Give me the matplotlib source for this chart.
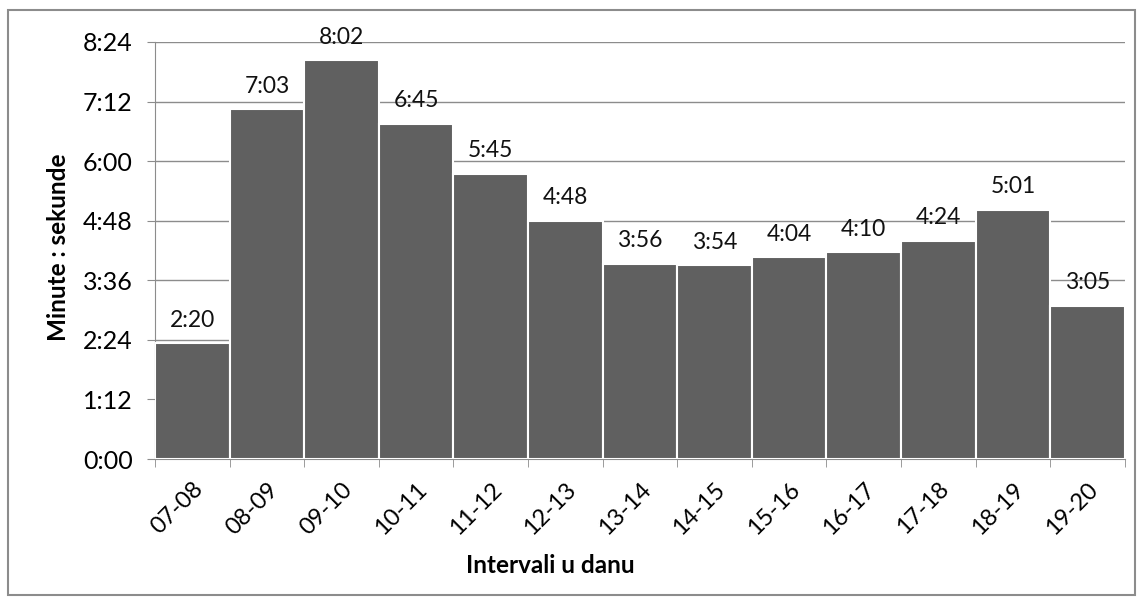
import matplotlib.pyplot as plt
from matplotlib.patches import Rectangle

# Data: average duration per hour interval (seconds)
intervals = ['07-08', '08-09', '09-10', '10-11', '11-12', '12-13', '13-14',
             '14-15', '15-16', '16-17', '17-18', '18-19', '19-20']
durations = [140, 423, 482, 405, 345, 288, 236, 234, 244, 250, 264, 301, 185]
yticks_sec = [0, 72, 144, 216, 288, 360, 432, 504]


def mmss(s):
    return f"{int(s) // 60}:{int(s) % 60:02d}"


plt.rcParams['font.family'] = ['Lato', 'DejaVu Sans']

fig = plt.figure(figsize=(11.42, 6.05), dpi=100)
ax = fig.add_axes([0.1357, 0.2413, 0.8493, 0.6893])

x = list(range(len(intervals)))
ax.bar(x, durations, width=1.0, color='#606060', edgecolor='white', linewidth=1.5, zorder=3)

# value labels above each bar
for xi, d in zip(x, durations):
    ax.annotate(mmss(d), (xi, d), xytext=(0, 9), textcoords='offset points',
                ha='center', va='bottom', fontsize=16.5, color='#111111', zorder=4)

ax.set_xlim(-0.5, len(intervals) - 0.5)
ax.set_ylim(0, 504)
ax.set_yticks(yticks_sec)
ax.set_yticklabels([mmss(s) for s in yticks_sec], fontsize=18)
ax.yaxis.grid(True, color='#8c8c8c', linewidth=1, zorder=0)

ax.set_xticks(x)
ax.set_xticklabels(intervals, rotation=45, ha='right', rotation_mode='anchor', fontsize=17)
ax.set_xticks([i - 0.5 for i in range(len(intervals) + 1)], minor=True)
ax.tick_params(axis='x', which='major', length=0, pad=14)
ax.tick_params(axis='x', which='minor', length=6, color='#8c8c8c')
ax.tick_params(axis='y', length=6, color='#8c8c8c', pad=10)

for side in ['top', 'right']:
    ax.spines[side].set_visible(False)
for side in ['left', 'bottom']:
    ax.spines[side].set_color('#8c8c8c')

ax.set_ylabel('Minute : sekunde', fontsize=17.5, fontweight='bold')
ax.yaxis.set_label_coords(-0.088, 0.507)
ax.set_xlabel('Intervali u danu', fontsize=17.5, fontweight='bold')
ax.xaxis.set_label_coords(0.408, -0.228)

# gray frame around the whole chart
fig.patches.append(Rectangle((0.007, 0.016), 0.987, 0.967, transform=fig.transFigure,
                             fill=False, edgecolor='#8c8c8c', linewidth=1.5))

fig.savefig('out.png', dpi=100)
